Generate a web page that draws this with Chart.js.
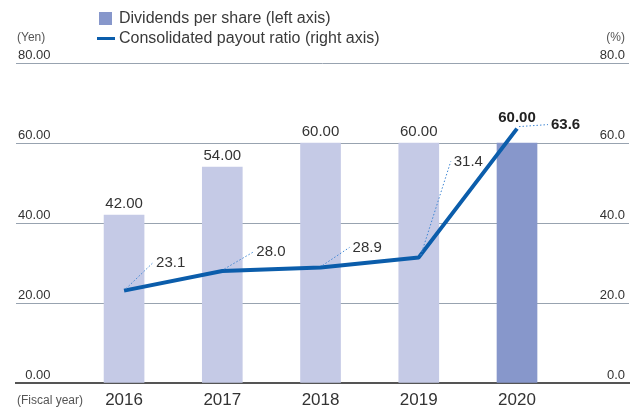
<!DOCTYPE html>
<html>
<head>
<meta charset="utf-8">
<script src="https://cdn.jsdelivr.net/npm/chart.js@4/dist/chart.umd.min.js"></script>
<style>
  html, body { margin: 0; padding: 0; background: #fff; }
  #wrap { width: 631px; height: 409px; position: relative; }
</style>
</head>
<body>
<div id="wrap"><canvas id="myChart"></canvas></div>
<script>
const years = ['2016', '2017', '2018', '2019', '2020'];
const dividends = [42, 54, 60, 60, 60];
const payoutRatio = [23.1, 28.0, 28.9, 31.4, 63.6];
const yenTicks = [0, 20, 40, 60, 80];
const percentTicks = [0, 20, 40, 60, 80];

const FONT = '"Liberation Sans", Arial, sans-serif';
const barLight = '#c5cae6';
const barDark = '#8797cb';
const lineBlue = '#0b5dab';
const textColor = '#333333';

// where the dotted leader of each ratio label ends, relative to its point
const leaderOffsets = [[29, -28], [31, -19], [29, -20], [32, -96], [31, -4]];

const annotations = {
    id: 'annotations',
    afterDatasetsDraw(chart) {
        const ctx = chart.ctx;
        const lineMeta = chart.getDatasetMeta(0);
        const barMeta = chart.getDatasetMeta(1);
        const last = dividends.length - 1;
        ctx.save();
        ctx.textBaseline = 'middle';

        // dividend values above the bars (latest year lifted above the line)
        barMeta.data.forEach((bar, i) => {
            const top = Math.min(bar.y, lineMeta.data[i].y);
            ctx.font = (i === last ? 'bold ' : '') + '15px ' + FONT;
            ctx.fillStyle = i === last ? '#222' : textColor;
            ctx.textAlign = 'center';
            ctx.fillText(dividends[i].toFixed(2), bar.x, top - 11);
        });

        // payout ratio labels with dotted leaders
        lineMeta.data.forEach((pt, i) => {
            const [dx, dy] = leaderOffsets[i];
            ctx.strokeStyle = '#3f86d3';
            ctx.lineWidth = 1;
            ctx.setLineDash([1.5, 2]);
            ctx.beginPath();
            ctx.moveTo(pt.x + 2, pt.y - 2);
            ctx.lineTo(pt.x + dx, pt.y + dy);
            ctx.stroke();
            ctx.setLineDash([]);
            ctx.font = (i === last ? 'bold ' : '') + '15px ' + FONT;
            ctx.fillStyle = i === last ? '#222' : textColor;
            ctx.textAlign = 'left';
            ctx.fillText(payoutRatio[i].toFixed(1), pt.x + dx + 3, pt.y + dy);
        });
        ctx.restore();
    },
    afterDraw(chart) {
        const ctx = chart.ctx;
        const area = chart.chartArea;
        ctx.save();
        ctx.textBaseline = 'middle';

        // legend
        ctx.fillStyle = barDark;
        ctx.fillRect(99, 12, 13, 13);
        ctx.strokeStyle = lineBlue;
        ctx.lineWidth = 3;
        ctx.beginPath();
        ctx.moveTo(97, 38.5);
        ctx.lineTo(115, 38.5);
        ctx.stroke();
        ctx.font = '16px ' + FONT;
        ctx.fillStyle = '#3a3a3a';
        ctx.textAlign = 'left';
        ctx.fillText(chart.data.datasets[1].label, 119, 18.5);
        ctx.fillText(chart.data.datasets[0].label, 119, 38.5);

        // axis units
        ctx.font = '12px ' + FONT;
        ctx.fillStyle = '#555';
        ctx.fillText('(Yen)', 17, 38);
        ctx.fillText('(Fiscal year)', 17, 401);
        ctx.textAlign = 'right';
        ctx.fillText('(%)', area.right - 4, 38);
        ctx.restore();
    }
};

const graph = document.getElementById('myChart').getContext('2d');

let myChart = new Chart(graph, {
    type: 'bar',
    data: {
        datasets: [{
            type: 'line',
            label: 'Consolidated payout ratio (right axis)',
            data: payoutRatio.map((v, i) => ({ x: i, y: v })),
            yAxisID: 'yRight',
            borderColor: lineBlue,
            borderWidth: 4,
            borderJoinStyle: 'round',
            pointRadius: 0,
            tension: 0,
            fill: false
        }, {
            type: 'bar',
            label: 'Dividends per share (left axis)',
            data: dividends.map((v, i) => ({ x: i, y: v })),
            yAxisID: 'yLeft',
            backgroundColor: dividends.map((v, i) => i === dividends.length - 1 ? barDark : barLight),
            barThickness: 40,
            borderWidth: 0
        }]
    },
    options: {
        responsive: true,
        maintainAspectRatio: false,
        animation: false,
        layout: { padding: { top: 63, left: 16, right: 2, bottom: 0 } },
        plugins: {
            legend: { display: false },
            tooltip: { enabled: false }
        },
        scales: {
            x: {
                type: 'linear',
                min: -1.1,
                max: 5.14,
                offset: false,
                afterBuildTicks: s => { s.ticks = years.map((y, i) => ({ value: i })); },
                afterFit: s => { s.height = 26; },
                grid: { display: false, drawTicks: false },
                border: { display: true, color: '#555', width: 2 },
                ticks: {
                    padding: 7,
                    color: textColor,
                    font: { family: FONT, size: 17 },
                    maxRotation: 0,
                    callback: v => years[v]
                }
            },
            yLeft: {
                position: 'left',
                min: 0,
                max: 80,
                afterBuildTicks: s => { s.ticks = yenTicks.map(v => ({ value: v })); },
                afterFit: s => { s.width = 0; },
                grid: { color: '#98a3b0', lineWidth: 1, drawTicks: false },
                border: { display: false },
                ticks: {
                    mirror: true,
                    crossAlign: 'far',
                    padding: 2,
                    labelOffset: -8,
                    color: textColor,
                    font: { family: FONT, size: 13 },
                    callback: v => v.toFixed(2)
                }
            },
            yRight: {
                position: 'right',
                min: 0,
                max: 80,
                afterBuildTicks: s => { s.ticks = percentTicks.map(v => ({ value: v })); },
                afterFit: s => { s.width = 0; },
                grid: { display: false, drawTicks: false },
                border: { display: false },
                ticks: {
                    mirror: true,
                    crossAlign: 'near',
                    padding: -4,
                    labelOffset: -8,
                    color: textColor,
                    font: { family: FONT, size: 13 },
                    callback: v => v.toFixed(1)
                }
            }
        }
    },
    plugins: [annotations]
});
</script>
</body>
</html>
